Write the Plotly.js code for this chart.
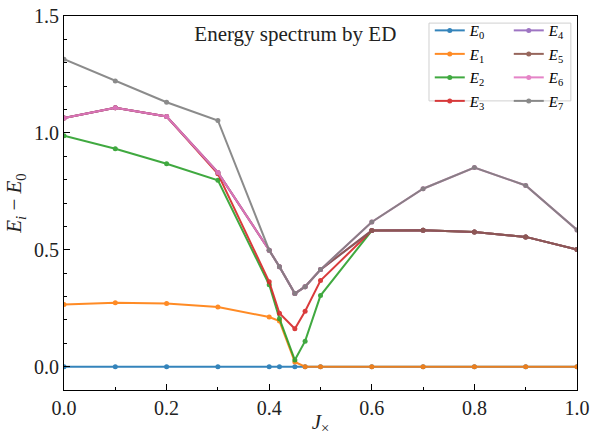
<!DOCTYPE html>
<html>
<head>
<meta charset="utf-8">
<script src="https://cdn.plot.ly/plotly-3.0.1.min.js"></script>
<style>html,body{margin:0;padding:0;background:#fff;}#chart{width:592px;height:436px;}</style>
</head>
<body>
<div id="chart"></div>
<script>
var J = [0, 0.1, 0.2, 0.3, 0.4, 0.42, 0.45, 0.47, 0.5, 0.6, 0.7, 0.8, 0.9, 1.0];
var E0 = [0, 0, 0, 0, 0, 0, 0, 0, 0, 0, 0, 0, 0, 0];
var E1 = [0.266, 0.273, 0.270, 0.255, 0.212, 0.195, 0.020, 0, 0, 0, 0, 0, 0, 0];
var E2 = [0.988, 0.932, 0.868, 0.797, 0.350, 0.205, 0.028, 0.109, 0.304, 0.582, 0.583, 0.576, 0.555, 0.501];
var E3 = [1.064, 1.107, 1.070, 0.825, 0.363, 0.228, 0.162, 0.237, 0.368, 0.582, 0.583, 0.576, 0.555, 0.501];
var E4 = [1.064, 1.107, 1.070, 0.831, 0.498, 0.427, 0.313, 0.342, 0.415, 0.582, 0.583, 0.576, 0.555, 0.501];
var E5 = [1.064, 1.107, 1.070, 0.831, 0.498, 0.427, 0.313, 0.342, 0.415, 0.582, 0.583, 0.576, 0.555, 0.501];
var E6 = [1.064, 1.107, 1.070, 0.831, 0.498, 0.427, 0.313, 0.342, 0.415, 0.619, 0.761, 0.852, 0.775, 0.585];
var E7 = [1.315, 1.222, 1.131, 1.053, 0.498, 0.427, 0.313, 0.342, 0.415, 0.619, 0.761, 0.852, 0.775, 0.585];
var series = [E0, E1, E2, E3, E4, E5, E6, E7];
var colors = ['#1f77b4','#ff7f0e','#2ca02c','#d62728','#9467bd','#8c564b','#e377c2','#7f7f7f'];

var traces = series.map(function(s, i){
  return {
    x: J, y: s, type: 'scatter', mode: 'lines+markers',
    name: '<i>E</i><sub>' + i + '</sub>',
    line: {color: colors[i], width: 2},
    marker: {color: colors[i], size: 5},
    opacity: 0.9,
    legendgroup: 'g' + i,
    legend: i < 4 ? 'legend' : 'legend2'
  };
});

var serif = 'Liberation Serif, Times New Roman, serif';
var legendCommon = {
  bgcolor: 'rgba(0,0,0,0)', borderwidth: 0,
  font: {family: serif, size: 15, color: '#000'},
  yanchor: 'top', xanchor: 'left', itemwidth: 30, tracegroupgap: 1,
  traceorder: 'grouped'
};

var layout = {
  width: 592, height: 436,
  margin: {l: 64, r: 15, t: 16, b: 46},
  paper_bgcolor: '#fff', plot_bgcolor: '#fff',
  title: {text: 'Energy spectrum by ED', font: {family: serif, size: 21, color: '#222'},
          xref: 'paper', x: 0.451, xanchor: 'center', yref: 'container', y: 0.922, yanchor: 'middle'},
  xaxis: {
    range: [0, 1], dtick: 0.2, tickformat: '.1f',
    showgrid: false, zeroline: false,
    showline: true, linecolor: '#000', linewidth: 1, mirror: true,
    ticks: 'inside', ticklen: 6, tickcolor: '#000',
    minor: {ticks: 'inside', ticklen: 3, dtick: 0.1, tickcolor: '#000'},
    tickfont: {family: serif, size: 20, color: '#222'},
    title: {text: '<i>J</i><sub>×</sub>', font: {family: serif, size: 21, color: '#222'}, standoff: 8}
  },
  yaxis: {
    range: [-0.1, 1.5], dtick: 0.5, tickformat: '.1f',
    showgrid: false, zeroline: false,
    showline: true, linecolor: '#000', linewidth: 1, mirror: true,
    ticks: 'inside', ticklen: 6, tickcolor: '#000',
    minor: {ticks: 'inside', ticklen: 3, dtick: 0.1, tickcolor: '#000'},
    tickfont: {family: serif, size: 20, color: '#222'},
    title: {text: '<i>E<sub>i</sub></i> − <i>E</i><sub>0</sub>', font: {family: serif, size: 21, color: '#222'}, standoff: 6}
  },
  legend: Object.assign({x: 0.713, y: 1.005}, legendCommon),
  legend2: Object.assign({x: 0.867, y: 1.005}, legendCommon),
  shapes: [{
    type: 'rect', xref: 'paper', yref: 'paper',
    x0: 0.7115, x1: 0.988, y0: 0.773, y1: 0.981,
    line: {color: '#d0d0d0', width: 1}, fillcolor: 'rgba(255,255,255,0.8)', layer: 'below'
  }],
  showlegend: true
};

Plotly.newPlot('chart', traces, layout, {staticPlot: true});
</script>
</body>
</html>
